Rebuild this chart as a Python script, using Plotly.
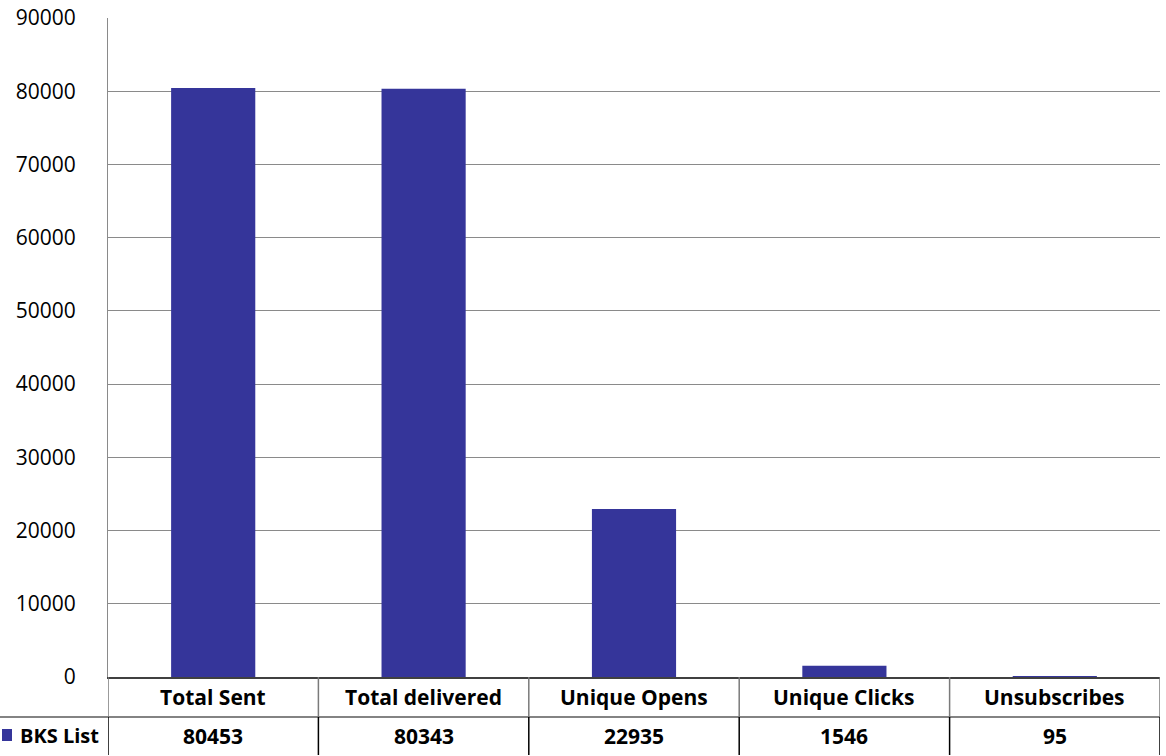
import plotly.graph_objects as go

categories = ["Total Sent", "Total delivered", "Unique Opens", "Unique Clicks", "Unsubscribes"]
bks_list = [80453, 80343, 22935, 1546, 95]
series_name = "BKS List"

BAR = "#35359a"
FONT = "Open Sans"
W, H = 1166, 756
L, R, T, B = 108, 6, 18, 79
pw = W - L - R
ph = H - T - B  # plot height in px

fig = go.Figure(go.Bar(x=list(range(len(categories))), y=bks_list, name=series_name,
                       marker=dict(color=BAR, line=dict(width=0)), width=0.4))

def py(px):
    # pixels below the x axis -> paper y
    return -px / ph

row1, row2 = py(40), py(78)
shapes = []
n = len(categories)
# horizontal line between header and values row
shapes.append(dict(type="line", xref="paper", yref="paper", x0=-L / pw, x1=1,
                   y0=row1, y1=row1, line=dict(color="#5a5a5a", width=1.5)))
for i in range(n + 1):
    xb = i - 0.5
    shapes.append(dict(type="line", xref="x", yref="paper", x0=xb, x1=xb, y0=0, y1=row1,
                       line=dict(color="#7a7a7a", width=1.5)))
    shapes.append(dict(type="line", xref="x", yref="paper", x0=xb, x1=xb, y0=row1, y1=row2,
                       line=dict(color="#000000", width=1.5)))
# legend key
shapes.append(dict(type="rect", xref="paper", yref="paper",
                   x0=-106 / pw, x1=-96 / pw,
                   y0=py(52), y1=py(64), fillcolor=BAR, line=dict(width=0)))

tfont = dict(family=FONT, size=21, color="black")
annotations = []
for i, (c, v) in enumerate(zip(categories, bks_list)):
    annotations.append(dict(x=i, xref="x", y=(0 + row1) / 2, yref="paper", text="<b>%s</b>" % c,
                            yanchor="middle", showarrow=False, font=tfont))
    annotations.append(dict(x=i, xref="x", y=(row1 + row2) / 2, yref="paper", text="<b>%d</b>" % v,
                            yanchor="middle", showarrow=False, font=tfont))
annotations.append(dict(x=-7 / pw, xref="paper", y=(row1 + row2) / 2, yref="paper",
                        xanchor="right", yanchor="middle", text="<b>%s</b>" % series_name,
                        showarrow=False, font=dict(family=FONT, size=20, color="black")))

fig.update_layout(
    width=W, height=H, margin=dict(l=L, r=R, t=T, b=B),
    plot_bgcolor="white", paper_bgcolor="white", showlegend=False,
    shapes=shapes, annotations=annotations,
    xaxis=dict(range=[-0.5, n - 0.5], showticklabels=False, showgrid=False, zeroline=False,
               showline=True, linecolor="#404040", linewidth=1.5, fixedrange=True,
               automargin=False),
    yaxis=dict(range=[0, 90000], dtick=10000, tickformat="d", showgrid=True,
               gridcolor="#8a8a8a", gridwidth=1,
               zeroline=False, showline=True, linecolor="#8a8a8a", linewidth=1,
               tickfont=dict(family=FONT, size=21, color="black"), ticklabelstandoff=27,
               fixedrange=True, automargin=False),
)

fig.write_html("out.html", config={"displayModeBar": False},
               post_script="document.body.style.margin='0';")
